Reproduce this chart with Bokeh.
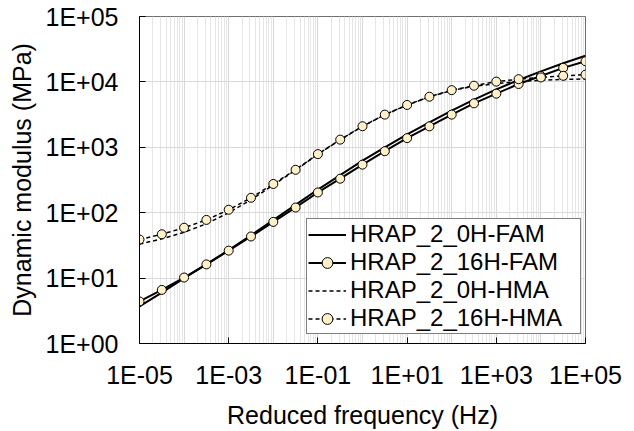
from bokeh.plotting import figure
from bokeh.models import Range1d, FixedTicker, CustomJSTickFormatter
from bokeh.embed import file_html
from bokeh.resources import INLINE

# Reduced frequency (Hz), half-decade steps
freq = [1e-5, 3.162e-5, 1e-4, 3.162e-4, 1e-3, 3.162e-3, 1e-2, 3.162e-2, 1e-1, 3.162e-1,
        1.0, 3.162, 10.0, 31.62, 100.0, 316.2, 1000.0, 3162.0, 1e4, 3.162e4, 1e5]

# Dynamic modulus (MPa)
fam_0h = [3.7, 6.0, 10.0, 16.2, 26.9, 45.0, 77.0, 132.0, 226.0, 376.0,
          624.0, 1000.0, 1580.0, 2400.0, 3630.0, 5370.0, 7670.0, 10700.0, 14500.0, 19300.0, 25100.0]
fam_16h = [4.4, 6.6, 10.2, 16.2, 26.3, 43.3, 72.3, 120.0, 204.0, 331.0,
           543.0, 871.0, 1380.0, 2090.0, 3160.0, 4700.0, 6610.0, 9290.0, 12300.0, 16400.0, 20700.0]
hma_0h = [33.1, 39.8, 50.1, 67.6, 100.0, 157.0, 266.0, 447.0, 782.0, 1300.0,
          2090.0, 3150.0, 4420.0, 5890.0, 7380.0, 8550.0, 9440.0, 10100.0, 10600.0, 10900.0, 11100.0]
hma_16h = [38.9, 46.8, 58.9, 77.6, 111.0, 169.0, 275.0, 453.0, 787.0, 1310.0,
           2100.0, 3160.0, 4440.0, 5930.0, 7480.0, 8750.0, 10100.0, 11000.0, 11700.0, 12400.0, 12900.0]

series_names = ["HRAP_2_0H-FAM", "HRAP_2_16H-FAM", "HRAP_2_0H-HMA", "HRAP_2_16H-HMA"]

x_ticks = [1e-5, 1e-3, 1e-1, 1e1, 1e3, 1e5]
x_tick_labels = ["1E-05", "1E-03", "1E-01", "1E+01", "1E+03", "1E+05"]
y_ticks = [1, 10, 100, 1000, 1e4, 1e5]
y_tick_labels = ["1E+00", "1E+01", "1E+02", "1E+03", "1E+04", "1E+05"]
x_grid_decades = [1e-5, 1e-4, 1e-3, 1e-2, 1e-1, 1, 10, 100, 1000, 1e4, 1e5]

FONT = "Liberation Sans"
MARK_FILL = "#FFF0C8"

p = figure(width=634, height=431, x_axis_type="log", y_axis_type="log",
           x_range=Range1d(1e-5, 1e5), y_range=Range1d(1, 1e5),
           output_backend="svg", toolbar_location=None,
           min_border_left=139, min_border_right=49, min_border_top=16, min_border_bottom=85)

p.background_fill_color = "white"
p.border_fill_color = "white"
p.outline_line_color = "#6e6e6e"
p.outline_line_width = 1

fmt_code = """
let best = 0; let bd = 1e9;
for (let i = 0; i < tvals.length; i++) {
  const d = Math.abs(Math.log10(tick) - Math.log10(tvals[i]));
  if (d < bd) { bd = d; best = i; }
}
return tlabels[best];
"""

# x axis
xa = p.xaxis[0]
xa.ticker = FixedTicker(ticks=x_ticks, minor_ticks=[])
xa.formatter = CustomJSTickFormatter(args=dict(tvals=x_ticks, tlabels=x_tick_labels), code=fmt_code)
xa.axis_label = "Reduced frequency (Hz)"
# y axis
ya = p.yaxis[0]
ya.ticker = FixedTicker(ticks=y_ticks, minor_ticks=[])
ya.formatter = CustomJSTickFormatter(args=dict(tvals=y_ticks, tlabels=y_tick_labels), code=fmt_code)
ya.axis_label = "Dynamic modulus (MPa)"

for ax in (xa, ya):
    ax.axis_line_color = "black"
    ax.axis_line_width = 1
    ax.major_tick_in = 6
    ax.major_tick_out = 0
    ax.major_tick_line_color = "black"
    ax.minor_tick_line_color = None
    ax.major_label_text_font = FONT
    ax.major_label_text_font_size = "25px"
    ax.major_label_text_color = "black"
    ax.axis_label_text_font = FONT
    ax.axis_label_text_font_size = "25px"
    ax.axis_label_text_font_style = "normal"
    ax.axis_label_text_color = "black"
xa.major_label_standoff = 17
xa.axis_label_standoff = 9
ya.major_label_standoff = 21
ya.axis_label_standoff = 7

# grids
minor_x = [d * k for d in x_grid_decades[:-1] for k in range(2, 10)]
p.xgrid.ticker = FixedTicker(ticks=x_grid_decades, minor_ticks=minor_x)
p.xgrid.grid_line_color = "#d9d9d9"
p.xgrid.minor_grid_line_color = "#e6e6e6"
p.ygrid.ticker = FixedTicker(ticks=y_ticks, minor_ticks=[])
p.ygrid.grid_line_color = "#d9d9d9"

# series lines
p.line(freq, fam_0h, line_color="black", line_width=2, legend_label=series_names[0])
p.line(freq, fam_16h, line_color="black", line_width=2, legend_label=series_names[1])
p.line(freq, hma_0h, line_color="black", line_width=1.5, line_dash="4 3", legend_label=series_names[2])
p.line(freq, hma_16h, line_color="black", line_width=1.5, line_dash="4 3", legend_label=series_names[3])
# markers
p.scatter(freq, fam_16h, size=9, fill_color=MARK_FILL, line_color="black", line_width=1,
          legend_label=series_names[1])
p.scatter(freq, hma_16h, size=9, fill_color=MARK_FILL, line_color="black", line_width=1,
          legend_label=series_names[3])

lg = p.legend[0]
lg.location = (167, 9)
lg.margin = 0
lg.padding = 1
lg.spacing = 0
lg.glyph_width = 38
lg.glyph_height = 27
lg.label_height = 27
lg.label_width = 229
lg.label_standoff = 4
lg.label_text_font = FONT
lg.label_text_font_size = "24px"
lg.label_text_color = "black"
lg.border_line_color = "black"
lg.border_line_width = 1
lg.background_fill_color = "white"
lg.background_fill_alpha = 1

open("out.html", "w").write(file_html(p, INLINE))
